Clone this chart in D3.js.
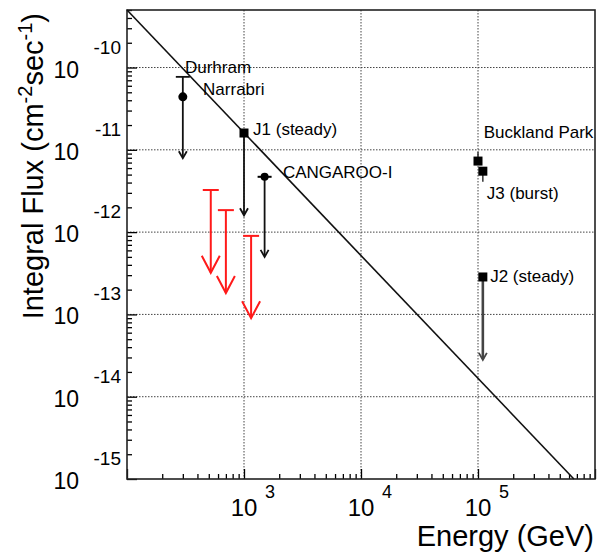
<!DOCTYPE html>
<html>
<head>
<meta charset="utf-8">
<script src="https://cdn.jsdelivr.net/npm/d3@7"></script>
<style>
  body { margin: 0; background: #fff; }
  svg { font-family: "Liberation Sans", Arial, sans-serif; }
</style>
</head>
<body>
<div id="chart"></div>
<script>
// upper limits drawn in black (marker, point, arrow end)
const limNames = ["Durham/Narrabri", "J1", "CANGAROO-I", "J2"];
const limEnergy = [300, 1000, 1500, 110000];
const limFlux = [4.4e-11, 1.6e-11, 4.7e-12, 2.85e-13];
const limEnd = [7.9e-12, 1.6e-12, 5.0e-13, 2.8e-14];
const limCap = [7.7e-11, null, null, null];
const limMarker = ["circle", "square", "diamond", "square"];

// red upper limits
const redEnergy = [520, 700, 1150];
const redFlux = [3.25e-12, 1.85e-12, 9.0e-13];
const redEnd = [3.2e-13, 1.82e-13, 9.0e-14];

// Buckland Park (J3 burst) points
const bpEnergy = [100000, 110000];
const bpFlux = [7.3e-12, 5.5e-12];
const bpLow = [6.6e-12, 4.1e-12];
const bpHigh = [9.4e-12, 5.5e-12];

// reference power-law line
const lineEnergy = [100, 660000];
const lineFlux = [5e-10, 1e-15];

// annotations (text, energy, flux at start of baseline)
const labelText = ["Durhram", "Narrabri", "J1 (steady)", "CANGAROO-I", "Buckland Park", "J3 (burst)", "J2 (steady)"];
const labelEnergy = [313, 447, 1195, 2150, 112000, 119000, 127000];
const labelFlux = [8.6e-11, 4.6e-11, 1.5e-11, 4.5e-12, 1.39e-11, 2.52e-12, 2.48e-13];

const xExp = [3, 4, 5];
const yExp = [-10, -11, -12, -13, -14, -15];

const width = 600, height = 556;
const svg = d3.select("#chart").append("svg")
  .attr("width", width).attr("height", height);

const x = d3.scaleLog().domain([1e2, 1e6]).range([127, 595]);
const y = d3.scaleLog().domain([1e-15, 5e-10]).range([479, 10]);

// grid
const grid = svg.append("g").attr("stroke", "#444").attr("stroke-width", 1)
  .attr("stroke-dasharray", "1.5,1.5");
xExp.forEach(e => {
  grid.append("line").attr("x1", x(10 ** e)).attr("x2", x(10 ** e))
    .attr("y1", y.range()[1]).attr("y2", y.range()[0]);
});
yExp.slice(0, 5).forEach(e => {
  grid.append("line").attr("y1", y(10 ** e)).attr("y2", y(10 ** e))
    .attr("x1", x.range()[0]).attr("x2", x.range()[1]);
});

// ticks
const xMajor = d3.range(2, 7).map(e => 10 ** e);
const xMinor = [];
d3.range(2, 6).forEach(e => d3.range(2, 10).forEach(m => xMinor.push(m * 10 ** e)));
const yMajor = d3.range(-15, -9).map(e => 10 ** e);
const yMinor = [];
d3.range(-15, -9).forEach(e => d3.range(2, 10).forEach(m => {
  if (m * 10 ** e <= 5.0001e-10) yMinor.push(m * 10 ** e);
}));

function drawAxis(g) {
  g.selectAll(".domain").remove();
  g.selectAll("line").attr("stroke", "#000").attr("stroke-width", 1.3);
}
svg.append("g").attr("transform", `translate(0,${y.range()[0]})`)
  .call(d3.axisBottom(x).tickValues(xMajor).tickSize(-10).tickFormat("")).call(drawAxis);
svg.append("g").attr("transform", `translate(0,${y.range()[0]})`)
  .call(d3.axisBottom(x).tickValues(xMinor).tickSize(-5).tickFormat("")).call(drawAxis);
svg.append("g").attr("transform", `translate(${x.range()[0]},0)`)
  .call(d3.axisLeft(y).tickValues(yMajor).tickSize(-10).tickFormat("")).call(drawAxis);
svg.append("g").attr("transform", `translate(${x.range()[0]},0)`)
  .call(d3.axisLeft(y).tickValues(yMinor).tickSize(-5).tickFormat("")).call(drawAxis);

// frame
svg.append("rect")
  .attr("x", x.range()[0]).attr("y", y.range()[1])
  .attr("width", x.range()[1] - x.range()[0])
  .attr("height", y.range()[0] - y.range()[1])
  .attr("fill", "none").attr("stroke", "#222").attr("stroke-width", 1.6);

// tick labels
xExp.forEach(e => {
  const gx = x(10 ** e);
  svg.append("text").attr("x", gx).attr("y", 516).attr("text-anchor", "middle")
    .attr("font-size", 24).text("10");
  svg.append("text").attr("x", gx + 21).attr("y", 498)
    .attr("font-size", 18).text(e);
});
yExp.forEach(e => {
  const gy = y(10 ** e);
  svg.append("text").attr("x", 79).attr("y", gy + 10).attr("text-anchor", "end")
    .attr("font-size", 23).text("10");
  svg.append("text").attr("x", 121).attr("y", gy - 14).attr("text-anchor", "end")
    .attr("font-size", 19).text(e);
});

// axis titles
svg.append("text").attr("x", 594).attr("y", 546).attr("text-anchor", "end")
  .attr("font-size", 29).text("Energy (GeV)");
const yt = svg.append("text").attr("transform", "translate(43,13) rotate(-90)")
  .attr("text-anchor", "end").attr("font-size", 29);
yt.append("tspan").text("Integral Flux (cm");
yt.append("tspan").attr("dy", -11).attr("font-size", 20).text("-2");
yt.append("tspan").attr("dy", 11).text("sec");
yt.append("tspan").attr("dy", -11).attr("font-size", 20).text("-1");
yt.append("tspan").attr("dy", 11).text(")");

// power-law line
svg.append("path")
  .datum(lineEnergy.map((e, i) => [e, lineFlux[i]]))
  .attr("d", d3.line().x(d => x(d[0])).y(d => y(d[1])))
  .attr("fill", "none").attr("stroke", "#111").attr("stroke-width", 1.6);

// red upper limits
const red = svg.append("g").attr("stroke", "#ff1a1a").attr("stroke-width", 2).attr("fill", "none");
redEnergy.forEach((e, i) => {
  const px = x(e), top = y(redFlux[i]), tip = y(redEnd[i]);
  red.append("line").attr("x1", px - 8).attr("x2", px + 8).attr("y1", top).attr("y2", top);
  red.append("line").attr("x1", px).attr("x2", px).attr("y1", top).attr("y2", tip);
  red.append("path").attr("d", `M${px - 9},${tip - 17}L${px},${tip}L${px + 9},${tip - 17}`);
});

// black upper limits
const lim = svg.append("g");
limEnergy.forEach((e, i) => {
  const px = x(e), py = y(limFlux[i]), tip = y(limEnd[i]);
  const col = i === 3 ? "#444" : "#111";
  const sw = i === 3 ? 2.6 : 1.8;
  if (limCap[i]) {
    const cy = y(limCap[i]);
    lim.append("line").attr("x1", px - 7).attr("x2", px + 7).attr("y1", cy).attr("y2", cy)
      .attr("stroke", "#111").attr("stroke-width", 1.8);
    lim.append("line").attr("x1", px).attr("x2", px).attr("y1", cy).attr("y2", py)
      .attr("stroke", "#111").attr("stroke-width", 1.8);
  }
  lim.append("line").attr("x1", px).attr("x2", px).attr("y1", py).attr("y2", tip - 1)
    .attr("stroke", col).attr("stroke-width", sw);
  lim.append("path").attr("d", `M${px - 4},${tip - 7}L${px},${tip}L${px + 4},${tip - 7}`)
    .attr("fill", "none").attr("stroke", col).attr("stroke-width", 1.8);
  if (limMarker[i] === "circle") {
    lim.append("circle").attr("cx", px).attr("cy", py).attr("r", 4.5).attr("fill", "#000");
  } else if (limMarker[i] === "square") {
    lim.append("rect").attr("x", px - 4.5).attr("y", py - 4.5).attr("width", 9).attr("height", 9).attr("fill", "#000");
  } else {
    lim.append("line").attr("x1", px - 7).attr("x2", px + 7).attr("y1", py).attr("y2", py)
      .attr("stroke", "#000").attr("stroke-width", 2);
    lim.append("circle").attr("cx", px).attr("cy", py).attr("r", 4).attr("fill", "#000");
  }
});

// Buckland Park points
const bp = svg.append("g");
bpEnergy.forEach((e, i) => {
  const px = x(e);
  bp.append("line").attr("x1", px).attr("x2", px)
    .attr("y1", y(bpHigh[i])).attr("y2", y(bpLow[i]))
    .attr("stroke", "#333").attr("stroke-width", 1.5);
  bp.append("rect").attr("x", px - 4.5).attr("y", y(bpFlux[i]) - 4.5)
    .attr("width", 9).attr("height", 9).attr("fill", "#000");
});

// annotations
labelText.forEach((t, i) => {
  svg.append("text").attr("x", x(labelEnergy[i])).attr("y", y(labelFlux[i]))
    .attr("font-size", 17).attr("fill", "#000").text(t);
});
</script>
</body>
</html>
